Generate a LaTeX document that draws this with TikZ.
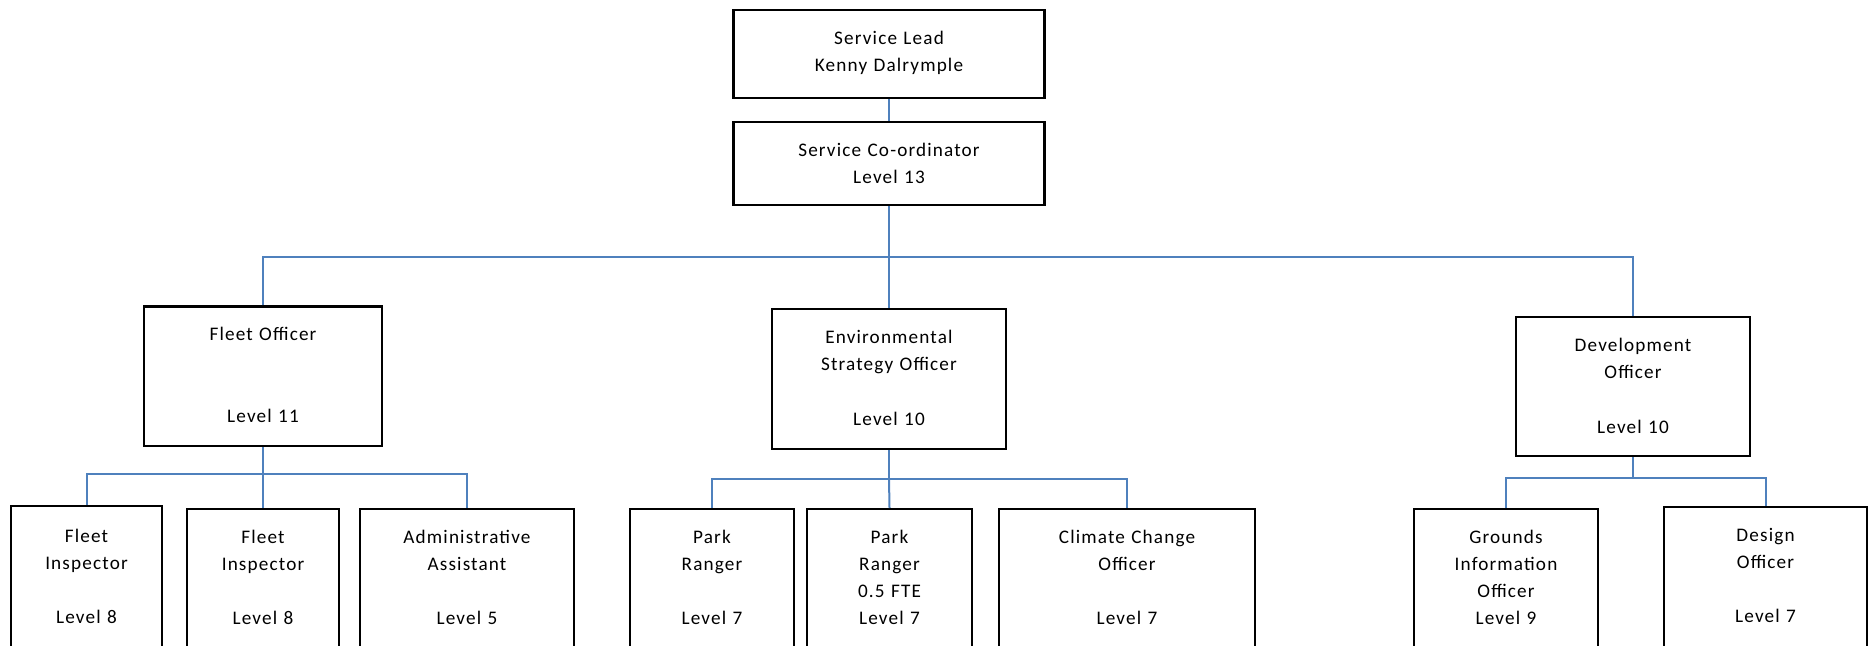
\documentclass[tikz,border=0pt]{standalone}
\usepackage{fontspec}
\setmainfont{Carlito}[LetterSpace=6]
\usepackage{tikz}
\definecolor{linkblue}{RGB}{79,129,189}

\begin{document}
\begin{tikzpicture}[x=0.5pt, y=-0.5pt,
  font=\fontsize{9.6pt}{13.5pt}\selectfont,
  post/.style={draw, line width=1.1pt, anchor=north, align=center, inner sep=0pt,
    text height=17.3pt, text depth=70pt},
  link/.style={draw=linkblue, line width=1pt}]
  \useasboundingbox (0,0) rectangle (1872,646);
  \clip (0,0) rectangle (1872,646);
  % Service lead and co-ordinator
  \node[post, text width=155.5pt, text height=17.35pt, text depth=26.5pt] (lead) at (889,9) {Service Lead\\Kenny Dalrymple};
  \node[post, text width=155.5pt, text depth=24.35pt] (coord) at (889,120.7) {Service Co-ordinator\\Level 13};
  \draw[link] (lead.south) -- (coord.north);
  % Officers
  \node[post, text width=119pt, text height=16.9pt, text depth=52.85pt] (fleet) at (263,305.5) {Fleet Officer\\[27.5pt]Level 11};
  \node[post, text width=117pt, text height=17.2pt, text depth=52.5pt] (env) at (889,308.3) {Environmental\\Strategy Officer\\[14pt]Level 10};
  \node[post, text width=117pt, text height=17pt, text depth=52.5pt] (dev) at (1633,316) {Development\\Officer\\[14pt]Level 10};
  \coordinate (bus) at (889,257);
  \draw[link] (coord.south) -- (bus);
  \draw[link] (fleet.north) |- (bus) -| (dev.north);
  \draw[link] (bus) -- (env.north);
  % Fleet team
  \node[post, text width=75.5pt, text height=18pt] (insp1) at (86.5,505) {Fleet\\Inspector\\[13.5pt]Level 8};
  \node[post, text width=76pt] (insp2) at (263,508) {Fleet\\Inspector\\[13.5pt]Level 8};
  \node[post, text width=107pt] (admin) at (467,508) {Administrative\\Assistant\\[13.5pt]Level 5};
  \coordinate (fleetbus) at (263,474);
  \draw[link] (fleet.south) -- (fleetbus);
  \draw[link] (insp1.north) |- (fleetbus) -| (admin.north);
  \draw[link] (fleetbus) -- (insp2.north);
  % Environmental team
  \node[post, text width=82pt] (ranger1) at (712,508) {Park\\Ranger\\[13.5pt]Level 7};
  \node[post, text width=82.5pt] (ranger2) at (889.5,508) {Park\\Ranger\\0.5 FTE\\Level 7};
  \node[post, text width=128pt] (climate) at (1127,508) {Climate Change\\Officer\\[13.5pt]Level 7};
  \coordinate (envbus) at (889,479);
  \draw[link] (env.south) -- (envbus);
  \draw[link] (ranger1.north) |- (envbus) -| (climate.north);
  \draw[link] (envbus) -- (ranger2.north);
  % Development team
  \node[post, text width=92pt] (grounds) at (1506,508) {Grounds\\Information\\Officer\\Level 9};
  \node[post, text width=101.5pt, text height=17.3pt] (design) at (1765.5,505.7) {Design\\Officer\\[13.5pt]Level 7};
  \coordinate (devbus) at (1633,478);
  \draw[link] (dev.south) -- (devbus);
  \draw[link] (grounds.north) |- (devbus) -| (design.north);
\end{tikzpicture}
\end{document}
